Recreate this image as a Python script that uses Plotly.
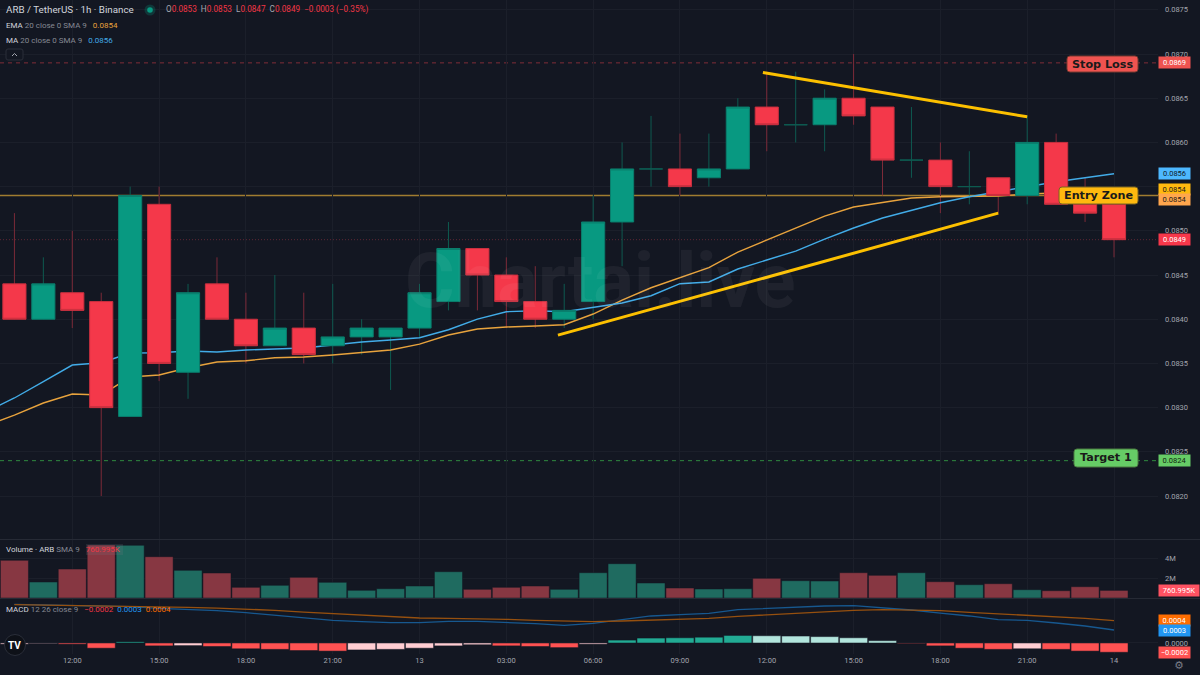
import pandas as pd
import plotly.graph_objects as go

# candles, one per hour, from 10:00 on the 12th up to 00:00 on the 14th
times = pd.date_range("2023-08-12 10:00", periods=39, freq="h")
opens = [.0844, .0840, .0843, .0842, .0829, .0853, .0834, .0844, .0840, .0837, .0839, .0837, .0838,
         .0838, .0839, .0842, .0848, .0845, .0842, .0840, .0842, .0851, .0857, .0857, .0856, .0857,
         .0864, .0862, .0862, .0865, .0864, .0858, .0858, .0855, .0856, .0854, .0860, .0853, .0853]
highs = [.0852, .0847, .0850, .0843, .0855, .0855, .0844, .0847, .0843, .0845, .0843, .0844, .0840,
         .0839, .0844, .0851, .0848, .0847, .0846, .0844, .0854, .0860, .0863, .0861, .0861, .0865,
         .0868, .0868, .0866, .0870, .0864, .0864, .0860, .0859, .0856, .0863, .0861, .0856, .0853]
lows = [.0840, .0840, .0839, .0820, .0829, .0833, .0831, .0840, .0835, .0837, .0835, .0835, .0836,
        .0832, .0838, .0841, .0841, .0839, .0839, .0839, .0840, .0846, .0855, .0854, .0855, .0857,
        .0859, .0860, .0859, .0862, .0854, .0856, .0852, .0853, .0852, .0853, .0853, .0851, .0847]
closes = [.0840, .0844, .0841, .0830, .0854, .0835, .0843, .0840, .0837, .0839, .0836, .0838, .0839,
          .0839, .0843, .0848, .0845, .0842, .0840, .0841, .0851, .0857, .0857, .0855, .0857, .0864,
          .0862, .0862, .0865, .0863, .0858, .0858, .0855, .0855, .0854, .0860, .0853, .0852, .0849]

# the two moving averages start one hour earlier so they reach the left edge
ma_times = pd.date_range("2023-08-12 09:00", periods=40, freq="h")
ema_values = [.082792, .082916, .083052, .083154, .083143, .083346, .083369, .083451, .083516, .083531,
              .083564, .083572, .083595, .083621, .083652, .083719, .083821, .083889, .083912, .083923,
              .083938, .084059, .084217, .084356, .084466, .084583, .08476, .084896, .085024, .085167,
              .085269, .085318, .085371, .085386, .085394, .085394, .085416, .085431, .085439, .085439]
ma_values = [.08295, .083109, .083293, .083482, .083508, .083618, .083621, .08364, .083629, .083652,
             .083663, .083674, .083708, .083742, .083765, .083791, .083881, .084002, .084085, .084096,
             .084085, .084138, .084183, .084266, .084402, .084421, .084568, .08467, .084771, .084907,
             .085032, .085145, .085235, .085318, .085386, .085442, .085499, .085555, .085601, .085646]

volumes = [3.77, 1.6, 2.9, 5.3, 5.27, 4.13, 2.77, 2.5, 1.07, 1.27, 2.07, 1.57, .77, .93, 1.2, 2.63, .87,
           1.07, 1.2, .87, 2.53, 3.43, 1.5, 1.0, .9, .93, 1.97, 1.73, 1.7, 2.53, 2.27, 2.53, 1.63, 1.33,
           1.43, .83, .73, 1.13, .761]

# macd numbers are in units of 0.0001
macd_line = [6.67, 6.55, 6.49, 6.38, 6.26, 5.98, 5.80, 5.57, 5.23, 4.77, 4.31, 3.91, 3.68, 3.51, 3.51,
             3.74, 3.74, 3.56, 3.33, 3.05, 3.39, 4.02, 4.66, 4.89, 5.11, 5.75, 5.98, 6.15, 6.38, 6.44,
             6.09, 5.69, 5.17, 4.66, 4.02, 3.91, 3.45, 2.93, 2.24]
signal_line = [6.61, 6.55, 6.49, 6.44, 6.38, 6.26, 6.15, 6.03, 5.86, 5.63, 5.34, 5.11, 4.83, 4.60, 4.31,
               4.25, 4.20, 4.08, 3.91, 3.74, 3.68, 3.79, 3.91, 4.08, 4.25, 4.60, 4.89, 5.11, 5.46, 5.63,
               5.75, 5.69, 5.57, 5.29, 5.06, 4.83, 4.60, 4.25, 3.85]
macd_hist = [-.2, -.1, -.2, -.9, .2, -.5, -.45, -.6, -1.0, -1.1, -1.3, -1.4, -1.2, -1.1, -.9, -.5, -.3,
             -.5, -.6, -.8, -.2, .5, .85, .9, 1.0, 1.3, 1.25, 1.2, 1.1, .9, .4, -.1, -.5, -.9, -1.1,
             -1.0, -1.1, -1.4, -1.6]

# drawn levels and trend lines
stop_level = .0869
entry_level = .0854
target_level = .0824
last_level = closes[-1]
trend_up_x = ["2023-08-13 04:47", "2023-08-13 20:00"]
trend_up_y = [.08382, .08520]
trend_down_x = ["2023-08-13 11:52", "2023-08-13 21:00"]
trend_down_y = [.08679, .08629]

price_ticks = [.0820, .0825, .0830, .0835, .0840, .0845, .0850, .0855, .0860, .0865, .0870, .0875]
# 0.0855 keeps its grid line but its label is hidden by the tags in the reference
price_labels = ["0.0820", "0.0825", "0.0830", "0.0835", "0.0840", "0.0845", "0.0850", "", "0.0860", "0.0865", "0.0870", "0.0875"]
time_ticks = ["2023-08-12 12:00", "2023-08-12 15:00", "2023-08-12 18:00", "2023-08-12 21:00",
              "2023-08-13 00:00", "2023-08-13 03:00", "2023-08-13 06:00", "2023-08-13 09:00",
              "2023-08-13 12:00", "2023-08-13 15:00", "2023-08-13 18:00", "2023-08-13 21:00",
              "2023-08-14 00:00"]
time_labels = ["12:00", "15:00", "18:00", "21:00", "13", "03:00", "06:00", "09:00", "12:00", "15:00",
               "18:00", "21:00", "14"]

BG = "#131722"
GRID = "#1b1f2a"
TEXT = "#a3a6af"
GREEN = "#089981"
RED = "#f4384a"
WICK_GREEN = "#0e5a50"
WICK_RED = "#7c2a38"
YELLOW = "#fcc000"
FONT = "Roboto"
LABEL_FONT = "DejaVu Sans"

PLOT_W = 1158
PLOT_H = 654

#pixel position on the page -> paper coords, saves a lot of fiddling for the legend texts
def px(x):
    return x / PLOT_W

def py(y):
    return 1 - y / PLOT_H

#rounded box for the Stop Loss etc labels, plotly annotations only do square corners
def round_box(x0, y0, x1, y1, r, fill, line="rgba(0,0,0,0)"):
    path = (f"M {px(x0 + r)} {py(y0)} L {px(x1 - r)} {py(y0)} Q {px(x1)} {py(y0)} {px(x1)} {py(y0 + r)} "
            f"L {px(x1)} {py(y1 - r)} Q {px(x1)} {py(y1)} {px(x1 - r)} {py(y1)} "
            f"L {px(x0 + r)} {py(y1)} Q {px(x0)} {py(y1)} {px(x0)} {py(y1 - r)} "
            f"L {px(x0)} {py(y0 + r)} Q {px(x0)} {py(y0)} {px(x0 + r)} {py(y0)} Z")
    return dict(type="path", xref="paper", yref="paper", path=path, fillcolor=fill,
                line=dict(color=line, width=1), layer="above")

def circle(cx, cy, r, fill, line="rgba(0,0,0,0)"):
    return dict(type="circle", xref="paper", yref="paper", x0=px(cx - r), x1=px(cx + r),
                y0=py(cy + r), y1=py(cy - r), fillcolor=fill, line=dict(color=line, width=1), layer="above")

def level_line(level, color, dash, width=1):
    return dict(type="line", xref="paper", yref="y", x0=0, x1=1, y0=level, y1=level,
                line=dict(color=color, width=width, dash=dash), layer="below")

def text_at(x, y, text, size=8, color=TEXT, family=FONT, anchor="left"):
    return dict(xref="paper", yref="paper", x=px(x), y=py(y), text=text, showarrow=False, xanchor=anchor,
                yanchor="middle", align=anchor, font=dict(size=size, color=color, family=family),
                borderpad=0, borderwidth=0)

#coloured tags in the right hand price column
def tag(y, yref, text, bg, color="#ffffff", width=31, shift=0):
    return dict(xref="paper", yref=yref, x=1.0, y=y, xanchor="left", yanchor="middle", text=text, showarrow=False,
                bgcolor=bg, width=width, height=11, borderpad=0, yshift=shift, align="center",
                font=dict(size=7.5, color=color, family=FONT))

def colored(text, color):
    return f'<span style="color:{color}">{text}</span>'

fig = go.Figure()

# wicks go in the lowest layer so the bodies sit on top of them
for is_up, color in ((True, WICK_GREEN), (False, WICK_RED)):
    wick_x, wick_y = [], []
    for t, o, h, l, c in zip(times, opens, highs, lows, closes):
        if (c >= o) == is_up:
            wick_x += [t, t, None]
            wick_y += [l, h, None]
    fig.add_trace(go.Scatter(x=wick_x, y=wick_y, mode="lines", line=dict(color=color, width=1), yaxis="y"))

fig.add_trace(go.Scatter(x=ma_times, y=ema_values, mode="lines", line=dict(color="#e8a33d", width=1.4), yaxis="y"))
fig.add_trace(go.Scatter(x=ma_times, y=ma_values, mode="lines", line=dict(color="#42ace8", width=1.4), yaxis="y"))

# bodies only, the real wicks are the lines above
solid = [i for i in range(len(times)) if opens[i] != closes[i]]
doji = [i for i in range(len(times)) if opens[i] == closes[i]]
fig.add_trace(go.Candlestick(
    x=[times[i] for i in solid],
    open=[opens[i] for i in solid],
    high=[max(opens[i], closes[i]) for i in solid],
    low=[min(opens[i], closes[i]) for i in solid],
    close=[closes[i] for i in solid],
    increasing=dict(fillcolor=GREEN, line=dict(color="#0a7d6c", width=1)),
    decreasing=dict(fillcolor=RED, line=dict(color="#c9303f", width=1)),
    yaxis="y4",
))
fig.add_trace(go.Candlestick(
    x=[times[i] for i in doji],
    open=[opens[i] for i in doji],
    high=[opens[i] for i in doji],
    low=[opens[i] for i in doji],
    close=[closes[i] for i in doji],
    increasing=dict(fillcolor=WICK_GREEN, line=dict(color=WICK_GREEN, width=1)),
    decreasing=dict(fillcolor=WICK_GREEN, line=dict(color=WICK_GREEN, width=1)),
    yaxis="y4",
))

fig.add_trace(go.Scatter(x=trend_up_x, y=trend_up_y, mode="lines", line=dict(color=YELLOW, width=3), yaxis="y4"))
fig.add_trace(go.Scatter(x=trend_down_x, y=trend_down_y, mode="lines", line=dict(color=YELLOW, width=3), yaxis="y4"))

# volume pane
volume_colors = ["#1f6b60" if c >= o else "#873742" for o, c in zip(opens, closes)]
fig.add_trace(go.Bar(x=times, y=[v * 1e6 for v in volumes], marker=dict(color=volume_colors, line=dict(color=BG, width=0.5)),
                     yaxis="y2"))

# macd pane, bar colour depends on sign and whether it is growing
hist_colors = []
for i, v in enumerate(macd_hist):
    rising = i == 0 or v > macd_hist[i - 1]
    if v >= 0:
        hist_colors.append("#22ab94" if rising else "#b2e5dd")
    else:
        hist_colors.append("#ffcdd2" if rising else "#ff5252")
fig.add_trace(go.Bar(x=times, y=[v * 1e-4 for v in macd_hist], marker=dict(color=hist_colors, line=dict(color=BG, width=0.5)),
                     yaxis="y3"))
fig.add_trace(go.Scatter(x=times, y=[v * 1e-4 for v in macd_line], mode="lines", line=dict(color="#17588f", width=1.3), yaxis="y3"))
fig.add_trace(go.Scatter(x=times, y=[v * 1e-4 for v in signal_line], mode="lines", line=dict(color="#96500f", width=1.3), yaxis="y3"))

shapes = [
    level_line(stop_level, "#7f2d38", "4px,4px"),
    level_line(entry_level, "#a07c30", "solid", width=1.4),
    level_line(last_level, "#5c2633", "1px,2px"),
    level_line(target_level, "#2f8a3f", "4px,4px"),
    # pane separators
    dict(type="line", xref="paper", yref="paper", x0=0, x1=1.04, y0=py(539.5), y1=py(539.5), line=dict(color="#262a35", width=1)),
    dict(type="line", xref="paper", yref="paper", x0=0, x1=1.04, y0=py(598.5), y1=py(598.5), line=dict(color="#262a35", width=1)),
    round_box(1067, 56, 1138, 72, 3, "#ef5350", "#7a3a30"),
    round_box(1059, 187, 1138, 204, 3, "#ffb90f", "#7a6420"),
    round_box(1074, 449, 1138, 467, 3, "#66cc66", "#4a7a40"),
    # little collapse button under the legend
    round_box(6, 49, 23, 60, 2, BG, "#2a2e39"),
    dict(type="path", xref="paper", yref="paper", layer="above", line=dict(color=TEXT, width=1),
         path=f"M {px(12)} {py(56)} L {px(14.5)} {py(53.5)} L {px(17)} {py(56)}"),
    # status dot
    circle(150, 10, 5.5, "rgba(8,153,129,0.25)"),
    circle(150, 10, 2.8, GREEN),
    # volume legend value highlight
    dict(type="rect", xref="paper", yref="paper", layer="above", x0=px(86), x1=px(123), y0=py(544), y1=py(555),
         fillcolor="rgba(120,123,134,0.18)", line=dict(width=0)),
    # logo
    circle(15, 645, 10.5, "#0e1118", "#2a2e39"),
]

ohlc_row = ("O" + colored("0.0853", "#f23645") + "  H" + colored("0.0853", "#f23645") + "  L" + colored("0.0847", "#f23645")
            + "  C" + colored("0.0849", "#f23645") + "  " + colored("−0.0003 (−0.35%)", "#f23645"))

annotations = [
    text_at(6, 10, "ARB / TetherUS · 1h · Binance", size=9.8, color="#d1d4dc"),
    text_at(166, 10, ohlc_row, size=8.2, color=TEXT),
    text_at(6, 25.5, colored("EMA", "#d1d4dc") + " 20 close 0 SMA 9   " + colored("0.0854", "#e8a33d"), size=8, color="#868993"),
    text_at(6, 40.5, colored("MA", "#d1d4dc") + " 20 close 0 SMA 9   " + colored("0.0856", "#42ace8"), size=8, color="#868993"),
    text_at(6, 549, colored("Volume · ARB", "#d1d4dc") + " SMA 9   " + colored("760.995K", "#f23645"), size=8, color="#868993"),
    text_at(6, 609, colored("MACD", "#d1d4dc") + " 12 26 close 9   " + colored("−0.0002", "#f23645") + "  "
            + colored("0.0003", "#2196f3") + "  " + colored("0.0004", "#ff6d00"), size=8, color="#868993"),
    # watermark
    text_at(600, 281, "<b>Chartai.live</b>", size=76, color="rgba(255,255,255,0.05)", anchor="center"),
    # drawn labels
    text_at(1102.5, 64, "<b>Stop Loss</b>", size=11.2, color="#1a1a1a", family=LABEL_FONT, anchor="center"),
    text_at(1098.5, 195.5, "<b>Entry Zone</b>", size=11.2, color="#1a1a1a", family=LABEL_FONT, anchor="center"),
    text_at(1106, 458, "<b>Target 1</b>", size=11.2, color="#1a1a1a", family=LABEL_FONT, anchor="center"),
    text_at(15, 645, "<b>TV</b>", size=10, color="#ffffff", anchor="center"),
    text_at(1179, 665, "⚙", size=11, color="#787b86", family="DejaVu Sans", anchor="center"),
    # right hand tags
    tag(stop_level, "y", "0.0869", "#ef5350"),
    tag(ma_values[-1], "y", "0.0856", "#4db8ff", "#0d1b2a"),
    tag(entry_level, "y", "0.0854", "#ffb90f", "#1a1a1a", shift=6),
    tag(ema_values[-1], "y", "0.0854", "#ffa64d", "#1a1a1a", shift=-7),
    tag(last_level, "y", "0.0849", "#f7374a"),
    tag(target_level, "y", "0.0824", "#66cc66", "#10240f"),
    tag(.761e6, "y2", "760.995K", "#ff5262", width=40),
    tag(signal_line[-1] * 1e-4, "y3", "0.0004", "#ff6d00"),
    tag(macd_line[-1] * 1e-4, "y3", "0.0003", "#2196f3"),
    tag(macd_hist[-1] * 1e-4, "y3", "−0.0002", "#ff5252"),
]

tick_font = dict(size=7.5, color=TEXT, family=FONT)
fig.update_layout(
    width=1200,
    height=675,
    margin=dict(l=0, r=42, t=0, b=21),
    paper_bgcolor=BG,
    plot_bgcolor=BG,
    showlegend=False,
    hovermode=False,
    boxgap=0.2,
    boxgroupgap=0,
    bargap=0.03,
    shapes=shapes,
    annotations=annotations,
    xaxis=dict(
        type="date",
        range=["2023-08-12 09:30:07", "2023-08-14 01:31:13"],
        anchor="y3",
        tickvals=time_ticks,
        ticktext=time_labels,
        ticks="",
        tickfont=tick_font,
        showgrid=True,
        gridcolor=GRID,
        gridwidth=1,
        zeroline=False,
        rangeslider=dict(visible=False),
        fixedrange=True,
    ),
    yaxis=dict(
        domain=[(PLOT_H - 539) / PLOT_H, 1],
        range=[.081514, .087611],
        side="right",
        tickvals=price_ticks,
        ticktext=price_labels,
        ticks="",
        ticklabelstandoff=6,
        tickfont=tick_font,
        gridcolor=GRID,
        zeroline=False,
        fixedrange=True,
    ),
    yaxis4=dict(
        overlaying="y",
        range=[.081514, .087611],
        side="right",
        showgrid=False,
        showticklabels=False,
        zeroline=False,
        fixedrange=True,
    ),
    yaxis2=dict(
        domain=[(PLOT_H - 598) / PLOT_H, (PLOT_H - 540) / PLOT_H],
        range=[0, 5.8e6],
        side="right",
        tickvals=[2e6, 4e6],
        ticktext=["2M", "4M"],
        ticks="",
        ticklabelstandoff=6,
        tickfont=tick_font,
        gridcolor=GRID,
        zeroline=False,
        fixedrange=True,
    ),
    yaxis3=dict(
        domain=[0, (PLOT_H - 599) / PLOT_H],
        range=[-1.9e-4, 7.59e-4],
        side="right",
        tickvals=[0],
        ticktext=["0.0000"],
        ticks="",
        ticklabelstandoff=6,
        tickfont=tick_font,
        gridcolor=GRID,
        zeroline=False,
        fixedrange=True,
    ),
)

fig.write_html("out.html", config=dict(displayModeBar=False), post_script="document.body.style.margin='0';")
